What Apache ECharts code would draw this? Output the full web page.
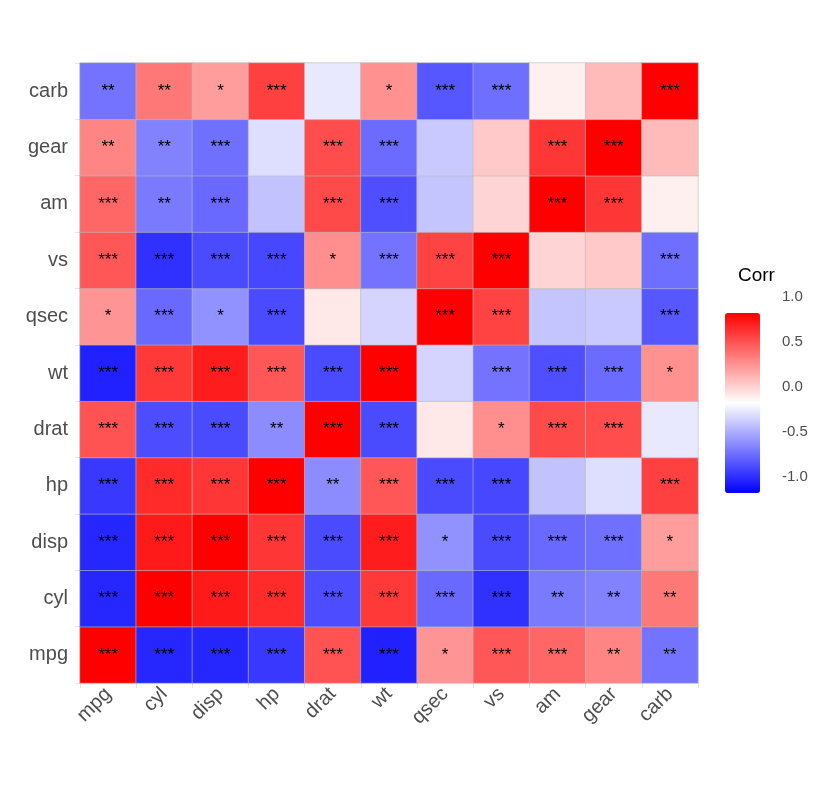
<!DOCTYPE html>
<html><head><meta charset="utf-8">
<script src="https://cdn.jsdelivr.net/npm/echarts@6/dist/echarts.min.js"></script>
<style>html,body{margin:0;background:#fff}#c{width:840px;height:810px}</style>
</head><body><div id="c"></div>
<script>
const vars = ['mpg','cyl','disp','hp','drat','wt','qsec','vs','am','gear','carb'];
const corr = [
 [1,-0.85,-0.85,-0.78,0.68,-0.87,0.42,0.66,0.60,0.48,-0.55],
 [-0.85,1,0.90,0.83,-0.70,0.78,-0.59,-0.81,-0.52,-0.49,0.53],
 [-0.85,0.90,1,0.79,-0.71,0.89,-0.43,-0.71,-0.59,-0.56,0.39],
 [-0.78,0.83,0.79,1,-0.45,0.66,-0.71,-0.72,-0.24,-0.13,0.75],
 [0.68,-0.70,-0.71,-0.45,1,-0.71,0.09,0.44,0.71,0.70,-0.09],
 [-0.87,0.78,0.89,0.66,-0.71,1,-0.17,-0.55,-0.69,-0.58,0.43],
 [0.42,-0.59,-0.43,-0.71,0.09,-0.17,1,0.74,-0.23,-0.21,-0.66],
 [0.66,-0.81,-0.71,-0.72,0.44,-0.55,0.74,1,0.17,0.21,-0.57],
 [0.60,-0.52,-0.59,-0.24,0.71,-0.69,-0.23,0.17,1,0.79,0.06],
 [0.48,-0.49,-0.56,-0.13,0.70,-0.58,-0.21,0.21,0.79,1,0.27],
 [-0.55,0.53,0.39,0.75,-0.09,0.43,-0.66,-0.57,0.06,0.27,1]
];
const stars = [
 ['***','***','***','***','***','***','*','***','***','**','**'],
 ['***','***','***','***','***','***','***','***','**','**','**'],
 ['***','***','***','***','***','***','*','***','***','***','*'],
 ['***','***','***','***','**','***','***','***','','','***'],
 ['***','***','***','**','***','***','','*','***','***',''],
 ['***','***','***','***','***','***','','***','***','***','*'],
 ['*','***','*','***','','','***','***','','','***'],
 ['***','***','***','***','*','***','***','***','','','***'],
 ['***','**','***','','***','***','','','***','***',''],
 ['**','**','***','','***','***','','','***','***',''],
 ['**','**','*','***','','*','***','***','','','***']
];
const legendTicks = [1.0,0.5,0.0,-0.5,-1.0];
const data = [];
for (let r=0;r<vars.length;r++) for (let c=0;c<vars.length;c++) data.push([c,r,corr[r][c],stars[r][c]]);
const chart = echarts.init(document.getElementById('c'));
const barTop=298, barH=180;
chart.setOption({
 backgroundColor:'#fff',
 grid:{left:80,right:142,top:63,bottom:127},
 xAxis:{type:'category',data:vars,axisLine:{show:false},axisTick:{show:true,lineStyle:{color:'#e5e5e5'}},
   axisLabel:{rotate:45,fontSize:20,color:'#4d4d4d',fontFamily:'Liberation Sans, Arial',margin:8},splitLine:{show:false}},
 yAxis:{type:'category',data:vars,axisLine:{show:false},axisTick:{show:true,lineStyle:{color:'#e5e5e5'}},
   axisLabel:{fontSize:20,color:'#4d4d4d',fontFamily:'Liberation Sans, Arial',margin:12}},
 visualMap:{type:'continuous',min:-1,max:1,dimension:2,calculable:false,right:65,top:barTop,itemWidth:35,itemHeight:barH,
   text:['',''],showLabel:false,inRange:{color:['#0000ff','#ffffff','#ff0000']}},
 graphic:[
   {type:'text',left:738,top:266,style:{text:'Corr',fontSize:19,fill:'#000',fontFamily:'Liberation Sans, Arial'}},
   ...legendTicks.map(v=>({type:'text',left:782,top:barTop+ (1-v)/2*barH -9,style:{text:v.toFixed(1),fontSize:15,fill:'#4d4d4d',fontFamily:'Liberation Sans, Arial'}}))
 ],
 series:[{type:'heatmap',data:data,
   itemStyle:{borderColor:'#bbbbbb',borderWidth:0.6},
   label:{show:true,formatter:p=>p.data[3],fontSize:17,color:'#000',fontFamily:'Liberation Sans, Arial'},
   emphasis:{disabled:true}}]
});
</script></body></html>
